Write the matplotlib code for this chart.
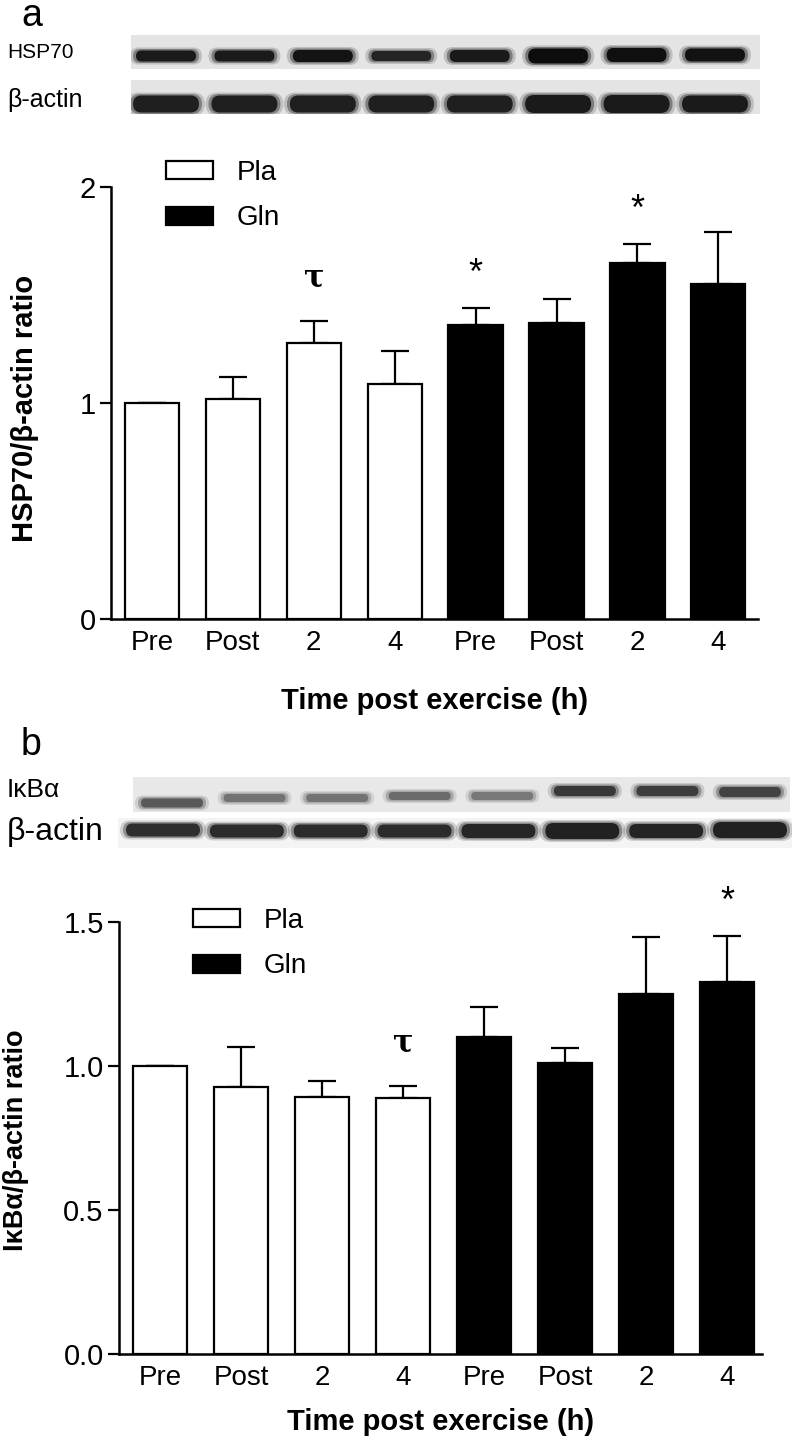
import matplotlib
matplotlib.use("Agg")
import matplotlib.pyplot as plt
from matplotlib.patches import Rectangle, FancyBboxPatch

# ---- data ----
times = ["Pre", "Post", "2", "4", "Pre", "Post", "2", "4"]
groups = ["Pla", "Pla", "Pla", "Pla", "Gln", "Gln", "Gln", "Gln"]

hsp_mean = [1.00, 1.02, 1.28, 1.09, 1.36, 1.37, 1.65, 1.55]
hsp_err = [0.00, 0.10, 0.10, 0.15, 0.08, 0.11, 0.085, 0.24]
hsp_marks = {2: "τ", 4: "*", 6: "*"}

ikb_mean = [1.00, 0.926, 0.892, 0.889, 1.101, 1.009, 1.251, 1.290]
ikb_err = [0.00, 0.139, 0.057, 0.041, 0.104, 0.054, 0.196, 0.161]
ikb_marks = {3: "τ", 7: "*"}

# blot bands: grey tone (0 black .. 1 white), thickness and centre (px in strip)
hsp_tone = [0.10, 0.10, 0.08, 0.14, 0.10, 0.05, 0.06, 0.07]
hsp_h = [11, 11, 12, 10, 12, 15, 14, 13]
hsp_y = [21, 21, 21, 21, 21, 21, 20, 20]
act_a_tone = [0.12, 0.12, 0.12, 0.12, 0.12, 0.10, 0.10, 0.10]
act_a_h = [17, 17, 17, 17, 17, 18, 18, 17]
act_a_y = [24, 24, 24, 24, 24, 24, 24, 24]
ikb_tone = [0.35, 0.45, 0.45, 0.42, 0.47, 0.22, 0.24, 0.26]
ikb_h = [9, 8, 8, 8, 8, 10, 10, 10]
ikb_y = [26, 21, 21, 19, 19, 14, 14, 15]
act_b_tone = [0.18, 0.17, 0.17, 0.17, 0.15, 0.13, 0.14, 0.13]
act_b_h = [13, 13, 13, 13, 14, 16, 14, 16]
act_b_y = [12, 13, 13, 13, 13, 13, 13, 12]

W, H = 792, 1445
fig = plt.figure(figsize=(W / 100, H / 100), dpi=100)
plt.rcParams["font.family"] = ["Liberation Sans", "DejaVu Sans"]


def box(l, t, r, b):
    return [l / W, 1 - b / H, (r - l) / W, (b - t) / H]


def blot(l, t, r, b, c_first, c_last, bw, tones, heights, ys, bg="#e4e4e4"):
    ax = fig.add_axes(box(l, t, r, b))
    ax.set_xlim(l, r)
    ax.set_ylim(b - t, 0)
    ax.set_facecolor(bg)
    for s in ax.spines.values():
        s.set_visible(False)
    ax.set_xticks([])
    ax.set_yticks([])
    n = len(tones)
    step = (c_last - c_first) / (n - 1)
    for i in range(n):
        xc = c_first + step * i
        hh = heights[i]
        col = str(tones[i])
        for grow, a in [(6, 0.18), (3, 0.4), (0, 1.0)]:
            w_ = bw + grow * 2
            h_ = hh + grow
            ax.add_patch(FancyBboxPatch((xc - w_ / 2, ys[i] - h_ / 2), w_, h_,
                                        boxstyle="round,pad=0,rounding_size=%g" % (h_ / 2),
                                        fc=col, ec="none", alpha=a))
    return ax


def bar_panel(rect, c0, step, left_px, right_px, means, errs, marks, yticks, fmt,
              ylabel, ylab_size, ylab_x, ylab_y, xlab_pad):
    ax = fig.add_axes(rect)
    x = list(range(len(means)))
    colors = ["white" if g == "Pla" else "black" for g in groups]
    ax.bar(x, means, width=0.67, color=colors, edgecolor="black", linewidth=1.6,
           zorder=2)
    ax.errorbar(x, means, yerr=[[0] * len(errs), errs], fmt="none",
                ecolor="black", elinewidth=1.6, capsize=10, capthick=1.6, zorder=1)
    ax.set_xlim((left_px - c0) / step, (right_px - c0) / step)
    ax.set_ylim(yticks[0], yticks[-1])
    ax.set_yticks(yticks)
    ax.set_yticklabels([fmt.format(v) for v in yticks])
    ax.set_xticks(x)
    ax.set_xticklabels(times)
    ax.tick_params(axis="x", length=0, pad=8, labelsize=20)
    ax.tick_params(axis="y", length=8, width=1.6, pad=3, labelsize=21)
    for s in ["top", "right"]:
        ax.spines[s].set_visible(False)
    for s in ["left", "bottom"]:
        ax.spines[s].set_linewidth(1.8)
    for i, m in marks.items():
        top = means[i] + errs[i]
        if m == "τ":
            ax.annotate(m, (i, top), xytext=(0, 31), textcoords="offset points",
                        ha="center", va="center", fontsize=22, fontweight="bold",
                        family=["DejaVu Serif"])
        else:
            ax.annotate(m, (i, top), xytext=(0, 24), textcoords="offset points",
                        ha="center", va="center", fontsize=26)
    ax.set_xlabel("Time post exercise (h)", fontsize=21, fontweight="bold",
                  labelpad=xlab_pad)
    ax.set_ylabel(ylabel, fontsize=ylab_size, fontweight="bold")
    ax.yaxis.set_label_coords(ylab_x / W, 1 - ylab_y / H, transform=fig.transFigure)
    return ax


def legend(ax, x_px, y_px):
    hd = [Rectangle((0, 0), 1, 1, fc="white", ec="black", lw=1.6),
          Rectangle((0, 0), 1, 1, fc="black", ec="black", lw=1.6)]
    ax.legend(hd, ["Pla", "Gln"], loc="upper left", frameon=False, fontsize=20,
              bbox_to_anchor=(x_px / W, 1 - y_px / H),
              bbox_transform=fig.transFigure, borderpad=0, borderaxespad=0,
              handlelength=1.7, handleheight=0.62, handletextpad=0.85,
              labelspacing=0.7)


# ---- panel a ----
fig.text(21 / W, 1 - 16 / H, "a", fontsize=27, va="center", ha="left")
fig.text(7 / W, 1 - 52 / H, "HSP70", fontsize=15, va="center", ha="left")
fig.text(7 / W, 1 - 100 / H, "β-actin", fontsize=18, va="center", ha="left")
blot(131, 35, 760, 69, 166, 715, 60, hsp_tone, hsp_h, hsp_y)
blot(131, 80, 760, 114, 166, 715, 66, act_a_tone, act_a_h, act_a_y)

ax_a = bar_panel(box(111, 187, 758, 619), 152, 80.9, 111, 758, hsp_mean, hsp_err,
                 hsp_marks, [0, 1, 2], "{:g}", "HSP70/β-actin ratio", 21, 39, 408,
                 22)
legend(ax_a, 166, 160)

# ---- panel b ----
fig.text(21 / W, 1 - 745 / H, "b", fontsize=27, va="center", ha="left")
fig.text(7 / W, 1 - 790 / H, "IκBα", fontsize=19, va="center", ha="left")
fig.text(7 / W, 1 - 832 / H, "β-actin", fontsize=23, va="center", ha="left")
blot(133, 777, 790, 812, 172, 750, 62, ikb_tone, ikb_h, ikb_y, bg="#e8e8e8")
blot(118, 818, 792, 848, 163, 750, 74, act_b_tone, act_b_h, act_b_y, bg="#f4f4f4")

ax_b = bar_panel(box(119, 922, 762, 1354), 160, 81.0, 119, 762, ikb_mean, ikb_err,
                 ikb_marks, [0.0, 0.5, 1.0, 1.5], "{:.1f}", "IκBα/β-actin ratio",
                 19.5, 29, 1140, 12)
legend(ax_b, 193, 908)

fig.savefig("out.png", dpi=100)
